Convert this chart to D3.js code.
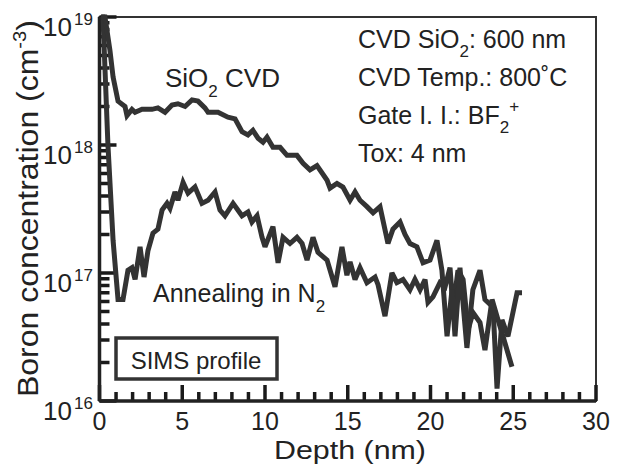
<!DOCTYPE html>
<html>
<head>
  <meta charset="utf-8">
  <script src="https://d3js.org/d3.v7.min.js"></script>
  <style>
    body { margin: 0; background: #fff; }
    text { font-family: "Liberation Sans", Arial, Helvetica, sans-serif; fill: #222; }
    .curve { fill: none; stroke: #333; stroke-width: 5px; stroke-linejoin: miter; stroke-miterlimit: 3; }
  </style>
</head>
<body>
<div id="plot"></div>
<script>
// depth (nm), boron concentration (cm-3)
var cvdData = [[0.1,1e19],[0.33,1e19],[0.63,5.5e18],[0.82,3.4e18],[1.12,2.2e18],[1.54,2.0e18],[1.66,1.7e18],
  [1.96,1.9e18],[2.15,1.8e18],[2.57,1.9e18],[3.17,1.9e18],[3.53,1.95e18],[3.96,1.8e18],[4.38,2.05e18],
  [4.74,2.1e18],[5.17,2.0e18],[5.59,2.25e18],[5.95,2.2e18],[6.37,1.95e18],[6.56,1.8e18],[7.16,1.8e18],
  [7.76,1.65e18],[8.19,1.6e18],[8.61,1.27e18],[8.97,1.2e18],[9.27,1.3e18],[9.58,1.13e18],[9.88,1.05e18],
  [10.12,1.15e18],[10.48,9.6e17],[10.91,9.6e17],[11.33,8.3e17],[11.93,8.3e17],[12.3,7.2e17],[12.72,6.4e17],
  [13.14,6.9e17],[13.75,5.3e17],[13.93,4.6e17],[14.35,5.0e17],[14.71,4.7e17],[15.14,3.7e17],[15.44,4.3e17],
  [15.74,3.7e17],[16.16,3.3e17],[16.53,2.95e17],[16.95,3.3e17],[17.43,1.7e17],[17.73,2.2e17],[18.16,2.5e17],
  [18.46,2.0e17],[18.76,1.7e17],[19.18,1.6e17],[19.55,1.2e17],[19.97,1.26e17],[20.39,1.8e17],[20.69,1.05e17],
  [21.0,3.2e16],[21.3,7.4e16],[21.48,3.2e16],[21.78,1.1e17],[22.2,2.6e16],[22.56,7.4e16],[22.99,1.05e17],
  [23.29,6.2e16],[23.78,5.4e16],[24.02,1.25e16],[24.32,4.3e16],[24.68,3.2e16],[25.23,7.0e16],[25.53,7.0e16]];

var annealData = [[0.1,1e19],[0.21,1e19],[0.51,1e18],[0.82,1.8e17],[1.12,6.2e16],[1.42,6.2e16],[1.72,1.05e17],
  [1.96,1.1e17],[2.15,8.9e16],[2.45,1.6e17],[2.69,9.3e16],[2.93,1.5e17],[3.23,2.05e17],[3.53,2.2e17],
  [3.78,3.1e17],[4.08,3.5e17],[4.26,3.2e17],[4.56,4.3e17],[4.74,3.7e17],[5.05,5.1e17],[5.35,4.2e17],
  [5.77,4.7e17],[6.19,3.5e17],[6.56,3.7e17],[6.98,4.3e17],[7.28,3.1e17],[7.58,2.8e17],[8.07,3.5e17],
  [8.61,2.8e17],[8.97,3.0e17],[9.21,2.5e17],[9.52,2.8e17],[9.82,1.9e17],[10.0,1.6e17],[10.48,2.3e17],
  [10.79,1.2e17],[11.09,1.9e17],[11.51,1.7e17],[11.93,1.9e17],[12.24,1.7e17],[12.54,1.26e17],[12.9,1.9e17],
  [13.2,1.45e17],[13.75,1.26e17],[14.23,7.8e16],[14.65,1.6e17],[14.95,9.6e16],[15.14,1.22e17],[15.44,8.9e16],
  [15.74,1.1e17],[16.16,8.4e16],[16.65,9.3e16],[16.83,8.1e16],[17.25,4.6e16],[17.67,1.0e17],[17.97,8.4e16],
  [18.34,8.9e16],[18.76,7.4e16],[19.06,8.9e16],[19.37,7.4e16],[19.67,8.9e16],[19.85,5.9e16],[20.15,6.5e16],
  [20.57,8.4e16],[20.88,7.8e16],[21.18,1.1e17],[21.36,5.2e16],[21.66,1.05e17],[21.97,8.9e16],[22.27,3.6e16],
  [22.57,4.9e16],[22.99,4.1e16],[23.29,2.5e16],[23.72,6.2e16],[24.08,4.3e16],[24.38,3.2e16],[24.92,1.85e16]];

var xMajor = [0, 5, 10, 15, 20, 25, 30];
var xMinor = d3.range(0, 31, 1);
var yMajor = [1e16, 1e17, 1e18, 1e19];
var yExp = ["16", "17", "18", "19"];
var conditions = [
  ["CVD SiO", "2", ": 600 nm", ""],
  ["CVD Temp.: 800\u02DAC", "", "", ""],
  ["Gate I. I.: BF", "2", "", "+"],
  ["Tox: 4 nm", "", "", ""]
];

var W = 617, H = 470;
var svg = d3.select('#plot').append('svg')
  .attr('width', W).attr('height', H);

var x = d3.scaleLinear().domain([0, 30]).range([99.5, 596]);
var y = d3.scaleLog().domain([1e16, 1e19]).range([401, 17]);

var yMinor = [];
[1e16, 1e17, 1e18].forEach(function(d){
  for (var k = 2; k <= 9; k++) yMinor.push(k * d);
});

// frame
svg.append('rect')
  .attr('x', x(0)).attr('y', y(1e19))
  .attr('width', x(30) - x(0)).attr('height', y(1e16) - y(1e19))
  .attr('fill', 'none').attr('stroke', '#333').attr('stroke-width', 2);

// ticks, pointing in, one path per axis
var y0 = y(1e16), x0 = x(0);
var xTickPath = xMinor.map(function(d){
  var len = (d % 5 === 0) ? 16 : 9;
  return 'M' + x(d) + ',' + y0 + 'V' + (y0 - len);
}).join('');
var yTickPath = yMinor.concat(yMajor).map(function(d){
  var len = (yMajor.indexOf(d) >= 0) ? 17 : 10;
  return 'M' + x0 + ',' + y(d) + 'H' + (x0 + len);
}).join('');

svg.append('path').attr('d', xTickPath)
  .attr('fill', 'none').attr('stroke', '#1a1a1a').attr('stroke-width', 3.5);
svg.append('path').attr('d', yTickPath)
  .attr('fill', 'none').attr('stroke', '#1a1a1a').attr('stroke-width', 3.5);

// x labels
svg.selectAll('text.xlab').data(xMajor).enter().append('text')
  .attr('class', 'xlab')
  .attr('x', function(d){ return x(d); }).attr('y', 430)
  .attr('text-anchor', 'middle').attr('font-size', 25)
  .text(function(d){ return d; });

// axis lines, heavier
svg.append('line').attr('x1', x(0)).attr('x2', x(30)).attr('y1', y(1e16)).attr('y2', y(1e16))
  .attr('stroke', '#222').attr('stroke-width', 3.5);
svg.append('line').attr('x1', x(0)).attr('x2', x(0)).attr('y1', y(1e16)).attr('y2', y(1e19))
  .attr('stroke', '#222').attr('stroke-width', 3.5);

// y labels 10^n
var yl = svg.selectAll('g.ylab').data(yMajor).enter().append('g').attr('class', 'ylab');
yl.append('text')
  .attr('x', 72).attr('y', function(d){ return y(d) + 19; })
  .attr('text-anchor', 'end').attr('font-size', 26).text('10');
yl.append('text')
  .attr('x', 74).attr('y', function(d){ return y(d) + 8; })
  .attr('font-size', 17).text(function(d, i){ return yExp[i]; });

// curves
var line = d3.line()
  .x(function(d){ return x(d[0]); })
  .y(function(d){ return y(d[1]); });

svg.append('path').attr('class', 'curve').attr('d', line(annealData));
svg.append('path').attr('class', 'curve').attr('d', line(cvdData));

// axis titles
svg.append('text')
  .attr('x', 350).attr('y', 459)
  .attr('text-anchor', 'middle').attr('font-size', 26)
  .attr('textLength', 152).attr('lengthAdjust', 'spacingAndGlyphs')
  .text('Depth (nm)');

var yt = svg.append('text')
  .attr('transform', 'translate(38,397) rotate(-90)')
  .attr('font-size', 30)
  .attr('textLength', 377).attr('lengthAdjust', 'spacingAndGlyphs');
yt.append('tspan').text('Boron concentration (cm');
yt.append('tspan').attr('font-size', 19).attr('dy', -12).text('-3');
yt.append('tspan').attr('dy', 12).text(')');

// condition list
conditions.forEach(function(c, i){
  var t = svg.append('text').attr('x', 358).attr('y', 48 + i * 38).attr('font-size', 25);
  t.append('tspan').text(c[0]);
  if (c[1]) t.append('tspan').attr('font-size', 17).attr('dy', 9).text(c[1]);
  if (c[2]) t.append('tspan').attr('dy', -9).text(c[2]);
  if (c[3]) t.append('tspan').attr('font-size', 17).attr('dy', -21).text(c[3]);
});

// curve labels
var l1 = svg.append('text').attr('x', 165).attr('y', 87).attr('font-size', 26);
l1.append('tspan').text('SiO');
l1.append('tspan').attr('font-size', 17).attr('dy', 10).text('2');
l1.append('tspan').attr('dy', -10).text(' CVD');

var l2 = svg.append('text').attr('x', 153).attr('y', 302).attr('font-size', 25);
l2.append('tspan').text('Annealing in N');
l2.append('tspan').attr('font-size', 17).attr('dy', 10).text('2');

// SIMS profile box
svg.append('rect')
  .attr('x', 116).attr('y', 338).attr('width', 161).attr('height', 41)
  .attr('fill', '#fff').attr('stroke', '#333').attr('stroke-width', 3.5);
svg.append('text')
  .attr('x', 196).attr('y', 369).attr('text-anchor', 'middle').attr('font-size', 24)
  .text('SIMS profile');
</script>
</body>
</html>
